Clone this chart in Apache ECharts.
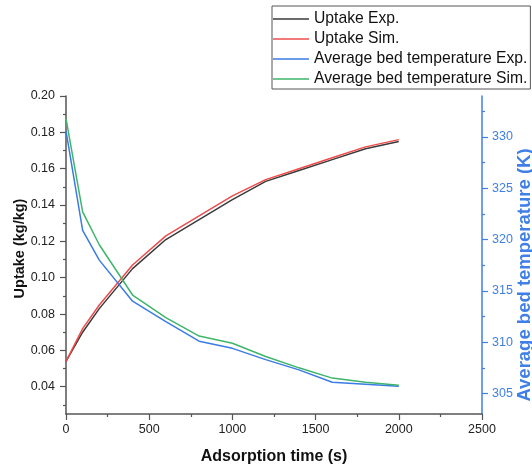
<!DOCTYPE html>
<html>
<head>
<meta charset="utf-8">
<script src="https://cdn.jsdelivr.net/npm/echarts@6/dist/echarts.min.js"></script>
<style>
html,body{margin:0;padding:0;background:#fff;}
#chart{width:532px;height:466px;}
</style>
</head>
<body>
<div id="chart"></div>
<script>
const times = [0, 100, 200, 400, 600, 800, 1000, 1200, 1400, 1600, 1800, 2000];
const uptakeExp = [0.054, 0.070, 0.083, 0.105, 0.121, 0.132, 0.143, 0.153, 0.159, 0.165, 0.171, 0.175];
const uptakeSim = [0.054, 0.072, 0.085, 0.107, 0.123, 0.134, 0.145, 0.154, 0.160, 0.166, 0.172, 0.176];
const tempExp = [330.6, 320.9, 318.0, 314.0, 312.0, 310.1, 309.4, 308.3, 307.3, 306.1, 305.9, 305.7];
const tempSim = [331.8, 322.7, 319.5, 314.6, 312.4, 310.6, 309.9, 308.6, 307.5, 306.5, 306.1, 305.8];
const leftTicks = [0.04, 0.06, 0.08, 0.10, 0.12, 0.14, 0.16, 0.18, 0.20];
const leftMinorTicks = [0.03, 0.05, 0.07, 0.09, 0.11, 0.13, 0.15, 0.17, 0.19];
const rightTicks = [305, 310, 315, 320, 325, 330];
const rightMinorTicks = [307.5, 312.5, 317.5, 322.5, 327.5, 332.5];
const seriesNames = ['Uptake Exp.', 'Uptake Sim.', 'Average bed temperature Exp.', 'Average bed temperature Sim.'];

const FONT = "'Liberation Sans', Arial, sans-serif";
const GRAY = '#555555';
const BLUE = '#3f7fe6';

const pairs = (xs, ys) => xs.map((x, i) => [x, ys[i]]);

const chart = echarts.init(document.getElementById('chart'), null, {renderer: 'canvas'});
chart.setOption({
  animation: false,
  backgroundColor: '#ffffff',
  textStyle: {fontFamily: FONT},
  grid: {left: 66, right: 50, top: 96, bottom: 52, containLabel: false, outerBoundsMode: 'none'},
  legend: {
    orient: 'vertical',
    left: 272, top: 6,
    padding: [5, 3, 2, 1],
    itemWidth: 36, itemHeight: 14, itemGap: 4,
    icon: 'path://M0,0 L36,0 L36,1.5 L0,1.5 Z',
    borderColor: '#555', borderWidth: 1,
    backgroundColor: '#fff',
    textStyle: {fontFamily: FONT, fontSize: 15.7, color: '#111'},
    data: seriesNames
  },
  xAxis: {
    type: 'value', min: 0, max: 2500, interval: 500,
    name: 'Adsorption time (s)', nameLocation: 'middle', nameGap: 35, nameMoveOverlap: false,
    nameTextStyle: {fontFamily: FONT, fontSize: 16, fontWeight: 'bold', color: '#111'},
    axisLine: {show: true, onZero: false, lineStyle: {color: GRAY, width: 1.5}},
    axisTick: {show: true, inside: false, length: 6, lineStyle: {color: GRAY, width: 1.2}},
    minorTick: {show: true, splitNumber: 2, length: 3, lineStyle: {color: GRAY, width: 1.2}},
    axisLabel: {margin: 9, fontFamily: FONT, fontSize: 12.5, color: '#222', formatter: v => String(v)},
    splitLine: {show: false}
  },
  yAxis: [
    {
      type: 'value', min: 0.025, max: 0.20, position: 'left',
      name: 'Uptake (kg/kg)', nameLocation: 'middle', nameGap: 39, nameMoveOverlap: false,
      nameTextStyle: {fontFamily: FONT, fontSize: 14.5, fontWeight: 'bold', color: '#111', padding: [0, 0, 0, 13]},
      axisLine: {show: true, onZero: false, lineStyle: {color: GRAY, width: 1.5}},
      axisTick: {show: true, inside: false, length: 6, customValues: leftTicks, lineStyle: {color: GRAY, width: 1.2}},
      axisLabel: {show: true, margin: 11, customValues: leftTicks, formatter: v => v.toFixed(2), fontFamily: FONT, fontSize: 12.5, color: '#222'},
      splitLine: {show: false}
    },
    {
      type: 'value', min: 303, max: 334, position: 'right',
      name: 'Average bed temperature (K)', nameLocation: 'middle', nameGap: 33, nameMoveOverlap: false,
      nameTextStyle: {fontFamily: FONT, fontSize: 18.5, fontWeight: 'bold', color: BLUE, padding: [0, 40, 0, 0]},
      axisLine: {show: true, onZero: false, lineStyle: {color: BLUE, width: 1.5}},
      axisTick: {show: true, inside: false, length: 6, customValues: rightTicks, lineStyle: {color: BLUE, width: 1.2}},
      axisLabel: {show: true, margin: 10, customValues: rightTicks, fontFamily: FONT, fontSize: 12.5, color: BLUE},
      splitLine: {show: false}
    },
    {
      type: 'value', min: 0.025, max: 0.20, position: 'left',
      axisLine: {show: false},
      axisTick: {show: true, inside: false, length: 3, customValues: leftMinorTicks, lineStyle: {color: GRAY, width: 1.2}},
      axisLabel: {show: false},
      splitLine: {show: false}
    },
    {
      type: 'value', min: 303, max: 334, position: 'right',
      axisLine: {show: false},
      axisTick: {show: true, inside: false, length: 3, customValues: rightMinorTicks, lineStyle: {color: BLUE, width: 1.2}},
      axisLabel: {show: false},
      splitLine: {show: false}
    }
  ],
  series: [
    {name: seriesNames[0], type: 'line', yAxisIndex: 0, data: pairs(times, uptakeExp), symbol: 'none', color: '#3a3a3a', lineStyle: {width: 1.5, color: '#3a3a3a'}},
    {name: seriesNames[1], type: 'line', yAxisIndex: 0, data: pairs(times, uptakeSim), symbol: 'none', color: '#ef4b4b', lineStyle: {width: 1.5, color: '#ef4b4b'}},
    {name: seriesNames[2], type: 'line', yAxisIndex: 1, data: pairs(times, tempExp), symbol: 'none', color: '#3a7be6', lineStyle: {width: 1.5, color: '#3a7be6'}},
    {name: seriesNames[3], type: 'line', yAxisIndex: 1, data: pairs(times, tempSim), symbol: 'none', color: '#3fb56b', lineStyle: {width: 1.5, color: '#3fb56b'}}
  ]
});
</script>
</body>
</html>
